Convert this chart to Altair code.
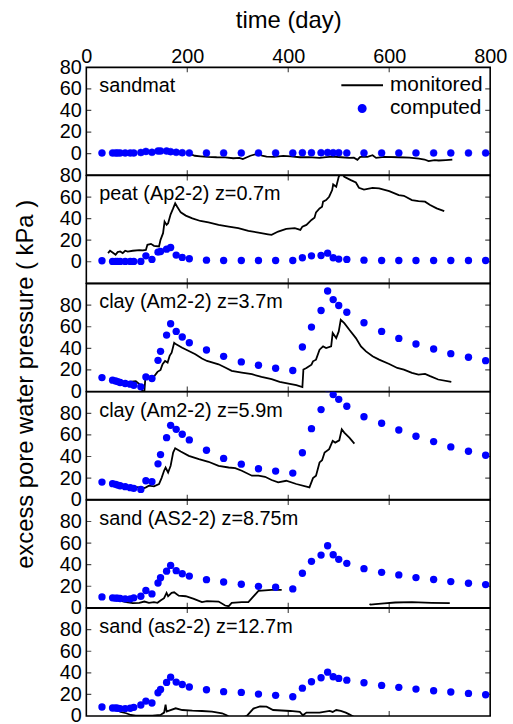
import altair as alt
import pandas as pd

FONT = "Liberation Sans"

# ---------------- data ----------------
T_COMP = [31, 52, 58, 62, 67, 77, 87, 94, 108, 118, 130, 142, 147, 159, 167, 178, 190, 204,
          238, 272, 307, 341, 375, 409, 428, 446, 465, 478, 489, 500, 516, 550, 585, 619,
          653, 688, 722, 757, 791]

COMP_P1 = [0.6, 0.6, 0.6, 0.6, 0.6, 0.6, 0.6, 0.6, 1.0, 2.0, 1.2, 2.4, 2.4, 2.4, 1.8, 1.2, 0.8, 0.6,
           0.6, 0.6, 0.6, 0.6, 0.6, 0.6, 0.8, 0.8, 0.8, 1.0, 0.8, 0.8, 0.6, 0.6, 0.6, 0.6,
           0.6, 0.6, 0.6, 0.6, 0.6]
COMP_P2 = [0.9, 0.3, 0.3, 0.3, 0.3, 0.3, 0.3, 0.3, 0.3, 5.5, 2.2, 8.9, 9.5, 11.7, 13.2, 6.2, 4.0, 2.8,
           1.5, 1.2, 1.2, 1.2, 1.2, 1.2, 3.7, 5.5, 5.8, 8.0, 3.7, 2.5, 2.2, 1.5, 1.2, 1.2,
           1.2, 1.2, 1.2, 1.2, 1.2]
COMP_P3 = [12.9, 10.5, 9.8, 9.2, 8.3, 7.4, 6.8, 5.8, 4.3, 13.5, 12.0, 28.9, 37.2, 52.3, 62.8, 55.7,
           50.5, 45.2, 38.5, 32.6, 27.4, 24.3, 21.5, 19.5, 41.2, 59.7, 75.1, 93.2, 85.2, 79.7,
           73.5, 63.7, 55.7, 49.2, 44.0, 39.4, 35.1, 31.7, 28.6]
COMP_P4 = [16.3, 14.8, 14.2, 13.5, 12.9, 12.0, 11.1, 10.5, 9.5, 17.5, 16.6, 33.2, 41.8, 57.5, 68.9,
           65.2, 60.6, 55.4, 45.8, 38.2, 32.9, 28.6, 26.5, 24.6, 43.5, 65.8, 83.5, 103.0, 97.5,
           93.0, 86.6, 76.9, 70.8, 64.6, 58.8, 53.8, 48.9, 44.9, 41.2]
COMP_P5 = [10.1, 9.2, 8.9, 8.9, 8.6, 8.3, 8.3, 9.2, 10.7, 16.0, 12.9, 23.0, 27.9, 34.0, 39.3, 34.4,
           31.6, 29.4, 26.1, 23.9, 21.8, 19.9, 19.0, 17.5, 32.0, 43.1, 48.9, 57.5, 49.2, 44.9,
           41.2, 36.3, 32.9, 30.5, 28.0, 26.2, 24.3, 22.8, 21.5]
COMP_P6 = [8.3, 7.4, 7.4, 7.1, 6.8, 6.8, 7.1, 8.0, 10.2, 13.8, 12.0, 21.5, 24.6, 31.1, 36.0, 31.4,
           29.2, 26.8, 24.3, 22.5, 21.8, 20.3, 19.1, 17.8, 25.8, 31.7, 35.4, 40.6, 36.3, 34.8,
           33.2, 30.8, 28.3, 26.5, 24.9, 23.4, 22.2, 20.9, 19.7]

# monitored: (day, value) pairs; separate lists are separate line segments
MON_P1 = [[(204, 0.0), (215, -2.0), (226, -2.5), (240, -3.0), (258, -3.4), (275, -3.6), (291, -4.3),
           (303, -4.0), (310, -5.0), (325, -2.0), (340, 0.0), (348, -1.8), (357, -2.8), (372, -3.0),
           (390, -2.2), (405, -2.6), (423, -3.4), (440, -3.2), (462, -4.0), (475, -3.2), (488, -2.8),
           (505, -3.4), (521, -4.0), (530, -3.8), (537, -5.8), (542, -3.2), (547, -2.8), (557, -3.0),
           (567, -1.5), (574, -4.0), (590, -3.0), (619, -3.4), (640, -3.8), (659, -4.6), (670, -5.5),
           (678, -7.0), (690, -6.0), (698, -6.4), (712, -6.0), (725, -5.5)]]
MON_P2 = [[(43, 8.0), (47, 10.2), (52, 8.6), (58, 6.5), (62, 8.9), (67, 9.5), (72, 8.0), (77, 10.2),
           (82, 9.5), (92, 10.2), (105, 10.8), (112, 10.5), (118, 11.0), (121, 15.7), (128, 16.6),
           (134, 14.8), (144, 14.2), (147, 20.3), (152, 26.5), (155, 37.2), (159, 34.2), (162, 35.7),
           (167, 44.0), (172, 49.5), (176, 54.2), (180, 51.0), (187, 45.8), (197, 42.8), (210, 40.3),
           (226, 37.8), (242, 36.6), (262, 34.2), (282, 32.6), (301, 31.1), (321, 28.6), (341, 27.1),
           (360, 25.5), (367, 24.9), (380, 28.0), (396, 30.5), (413, 31.1), (424, 29.5), (428, 32.6),
           (436, 34.2), (446, 38.8), (452, 40.9), (455, 45.8), (462, 49.5), (467, 51.0), (469, 55.7),
           (475, 57.2), (481, 60.3), (487, 66.5), (489, 71.7), (495, 69.5), (500, 78.8), (505, 83.0),
           (511, 78.8), (524, 75.7), (534, 73.5), (540, 68.6), (550, 67.0), (567, 68.6), (580, 68.0),
           (600, 65.5), (619, 61.8), (629, 61.2), (645, 57.2), (658, 56.3), (671, 55.7), (681, 52.6),
           (694, 49.5), (709, 47.0)]]
MON_P3 = [[(47, 11.4), (59, 9.8), (72, 9.2), (85, 8.9), (98, 9.5), (105, 6.8), (111, 0.6), (115, 0.0),
           (117, 12.9), (124, 13.8), (134, 13.8), (141, 18.2), (147, 20.0), (151, 25.2), (156, 28.3),
           (161, 26.8), (165, 33.0), (169, 36.0), (174, 45.2), (178, 43.7), (190, 40.6), (203, 37.5),
           (216, 34.5), (229, 30.5), (239, 28.3), (262, 25.2), (275, 22.2), (288, 19.1), (308, 17.5),
           (328, 16.0), (347, 13.5), (367, 11.4), (383, 8.9), (403, 7.1), (416, 5.8), (428, 4.0),
           (430, 20.3), (436, 21.8), (446, 24.9), (449, 28.0), (455, 29.5), (462, 38.8), (469, 41.8),
           (475, 40.3), (485, 41.8), (488, 54.2), (495, 49.5), (500, 55.7), (504, 66.5), (511, 63.4),
           (521, 57.2), (534, 49.5), (544, 41.8), (554, 37.2), (567, 32.6), (580, 29.5), (600, 25.5),
           (616, 21.8), (629, 20.3), (645, 17.2), (658, 15.7), (671, 16.3), (681, 14.2), (697, 11.1),
           (723, 8.9)]]
MON_P4 = [[(47, 13.8), (66, 12.9), (85, 12.3), (105, 11.4), (115, 10.8), (118, 11.4), (124, 12.9),
           (134, 12.3), (144, 14.5), (149, 20.0), (154, 26.8), (157, 29.8), (162, 25.2), (167, 31.4),
           (172, 43.7), (176, 47.7), (187, 44.6), (203, 40.6), (223, 37.5), (242, 35.1), (262, 31.4),
           (282, 29.8), (295, 29.2), (308, 26.8), (328, 22.2), (341, 22.2), (354, 21.2), (367, 18.2),
           (380, 16.0), (396, 17.5), (416, 14.5), (442, 11.4), (449, 20.0), (455, 22.2), (462, 34.5),
           (467, 36.6), (472, 43.7), (481, 46.8), (488, 54.5), (493, 52.9), (501, 55.0), (506, 65.2),
           (511, 62.2), (521, 57.5), (531, 52.0)]]
MON_P5 = [[(66, 6.7), (79, 5.2), (92, 4.3), (105, 4.6), (115, 5.8), (124, 4.6), (134, 5.2), (141, 4.6),
           (147, 6.7), (154, 8.9), (159, 13.8), (162, 10.7), (169, 13.8), (174, 14.4), (183, 11.3),
           (197, 10.7), (213, 8.3), (229, 5.2), (239, 6.1), (262, 5.8), (275, 2.1), (282, 1.5),
           (288, 4.6), (308, 5.2), (321, 5.2), (328, 8.9), (341, 15.6), (367, 16.6), (387, 16.6)],
          [(561, 3.5), (563, 3.0), (573, 3.4), (590, 4.0), (612, 4.9), (645, 5.2), (684, 4.6),
           (720, 4.3)]]
MON_P6 = [[(66, 4.0), (79, 2.5), (88, 0.9), (98, 0.3), (108, 0.3), (131, 0.3), (147, 0.9), (154, 3.1),
           (157, 10.5), (159, 4.0), (164, 4.9), (177, 7.1), (190, 5.5), (210, 4.9), (229, 4.6),
           (249, 4.0), (269, 2.5), (278, 0.6), (285, -1.5), (300, -3.0), (318, 0.0), (331, 6.8),
           (344, 8.9), (357, 8.6), (370, 5.5), (404, 4.6), (423, 3.7), (429, 0.6), (436, 3.1),
           (462, 3.1), (482, 4.6), (488, 3.7), (495, 5.5), (504, 4.6), (514, 3.1), (521, 1.5),
           (527, 0.0), (532, -1.5)]]

COMPUTED = [COMP_P1, COMP_P2, COMP_P3, COMP_P4, COMP_P5, COMP_P6]
MONITORED = [MON_P1, MON_P2, MON_P3, MON_P4, MON_P5, MON_P6]
PANEL_LABELS = ["sandmat", "peat (Ap2-2) z=0.7m", "clay (Am2-2) z=3.7m",
                "clay (Am2-2) z=5.9m", "sand (AS2-2) z=8.75m", "sand (as2-2) z=12.7m"]
Y_DOMAINS = [[-20, 80], [-20, 80], [0, 100], [0, 100], [0, 100], [0, 100]]
X_TICKS = [0, 200, 400, 600, 800]
Y_TICKS = [0, 20, 40, 60, 80]
SERIES = ["monitored", "computed"]
Y_TITLE = "excess pore water pressure ( kPa )"
X_TITLE = "time (day)"

W = 407
H = 108.67


def panel(i):
    ydom = Y_DOMAINS[i]
    xs = alt.Scale(domain=[0, 800], nice=False, zero=False)
    ys = alt.Scale(domain=ydom, nice=False, zero=False)

    if i == 0:
        x_axis = alt.Axis(orient="top", values=X_TICKS, title=X_TITLE, format="d",
                          ticks=False, domain=False, grid=False, labelPadding=1,
                          labelFlush=False, labelFontSize=20, titleFontSize=24,
                          titlePadding=14)
    else:
        x_axis = None
    y_axis = alt.Axis(values=Y_TICKS, format="d", ticks=False, domain=False, grid=False,
                      labelPadding=5, labelFlush=False, labelOverlap=False, labelFontSize=20,
                      title=Y_TITLE if i == 2 else None, titleFontSize=24,
                      titlePadding=22, titleY=101)
    X = alt.X("day:Q", scale=xs, axis=x_axis)
    Y = alt.Y("value:Q", scale=ys, axis=y_axis)

    rows = []
    for s, seg in enumerate(MONITORED[i]):
        for d, v in seg:
            rows.append({"day": d, "value": v, "seg": s})
    mon_df = pd.DataFrame(rows)
    comp_df = pd.DataFrame({"day": T_COMP, "value": COMPUTED[i], "series": "computed"})

    line = alt.Chart(mon_df).mark_line(color="black", strokeWidth=1.8, clip=True).encode(
        x=X, y=Y, detail="seg:N")

    if i == 0:
        leg = alt.Legend(title=None, orient="none", legendX=256, legendY=-4, padding=0,
                         labelFont=FONT, labelFontSize=21, labelColor="black",
                         symbolStrokeWidth=2, labelOffset=6, rowPadding=2, symbolOpacity=1)
        pts = alt.Chart(comp_df).mark_point(filled=True, opacity=1, strokeWidth=0.5,
                                            clip=True).encode(
            x=X, y=Y,
            fill=alt.Fill("series:N", scale=alt.Scale(domain=SERIES, range=["black", "blue"]),
                          legend=leg),
            stroke=alt.Stroke("series:N", scale=alt.Scale(domain=SERIES, range=["black", "blue"]),
                              legend=leg),
            shape=alt.Shape("series:N", scale=alt.Scale(domain=SERIES, range=["stroke", "circle"]),
                            legend=leg),
            size=alt.Size("series:N", scale=alt.Scale(domain=SERIES, range=[1764, 50]),
                          legend=leg),
        )
    else:
        pts = alt.Chart(comp_df).mark_point(filled=True, opacity=1, size=55, color="blue",
                                            strokeWidth=0, clip=True).encode(x=X, y=Y)

    # inward axis ticks on all four sides
    vt = pd.DataFrame([{"day": d, "value": v} for d in X_TICKS[1:-1] for v in ydom])
    inner_y = [t for t in Y_TICKS if ydom[0] < t < ydom[1]]
    ht = pd.DataFrame([{"day": d, "value": v} for d in [X_TICKS[0], X_TICKS[-1]] for v in inner_y])
    vticks = alt.Chart(vt).mark_tick(orient="vertical", size=10, thickness=1.2, color="black",
                                     clip=True).encode(x=X, y=Y)
    hticks = alt.Chart(ht).mark_tick(orient="horizontal", size=10, thickness=1.2, color="black",
                                     clip=True).encode(x=X, y=Y)

    lab = alt.Chart(pd.DataFrame({"label": [PANEL_LABELS[i]]})).mark_text(
        align="left", baseline="alphabetic", font=FONT, fontSize=20, color="black").encode(
        x=alt.value(13), y=alt.value(25), text="label:N")

    return alt.layer(vticks, hticks, line, pts, lab).properties(width=W, height=H)


chart = alt.vconcat(*[panel(i) for i in range(6)], spacing=0, bounds="flush").resolve_scale(
    fill="independent", stroke="independent", shape="independent", size="independent"
).properties(
    padding={"left": 12, "top": 5, "right": 5, "bottom": 3}
).configure_view(stroke="black", strokeWidth=1.6).configure_axis(
    labelFont=FONT, titleFont=FONT, labelColor="black", titleColor="black",
    titleFontWeight="normal"
)

chart.save("out.html", embed_options={"renderer": "svg", "actions": False})
